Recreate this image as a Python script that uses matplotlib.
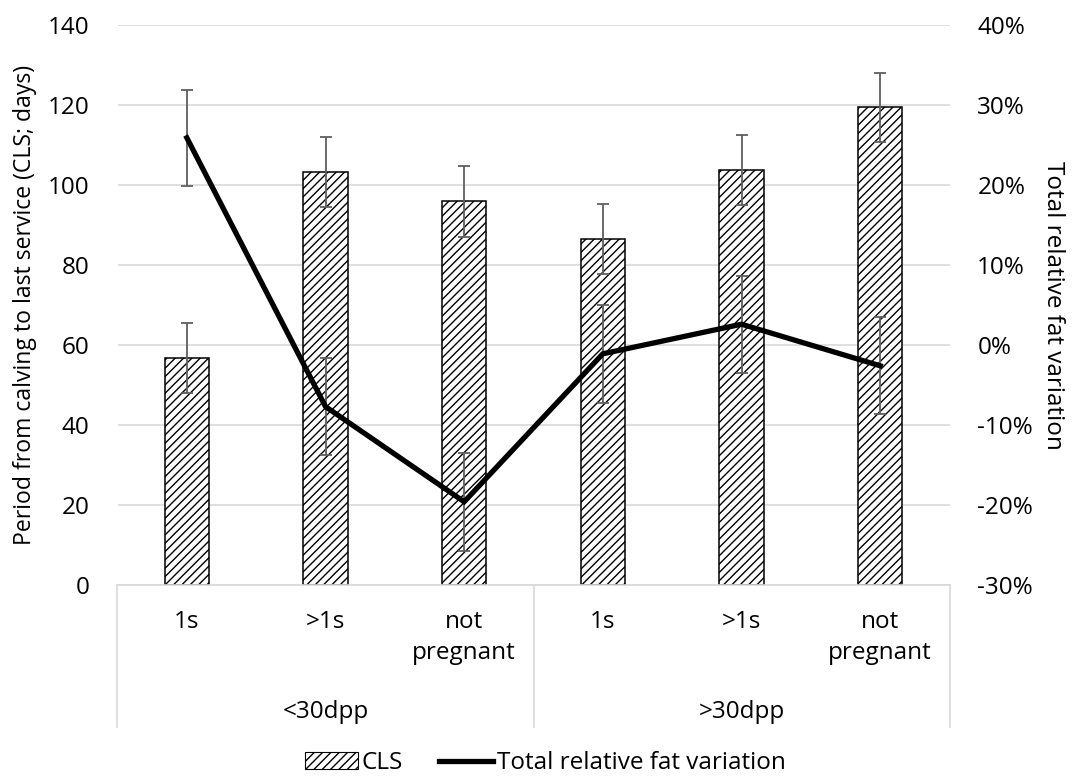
import numpy as np
import matplotlib
matplotlib.use('Agg')
import matplotlib.pyplot as plt
import matplotlib.transforms as mtransforms
from matplotlib.ticker import PercentFormatter
from matplotlib.patches import Patch
from matplotlib.lines import Line2D

plt.rcParams['font.family'] = ['Open Sans', 'DejaVu Sans']
plt.rcParams['font.size'] = 17.5
plt.rcParams['axes.unicode_minus'] = False
plt.rcParams['hatch.linewidth'] = 1.0

groups = ['<30dpp', '>30dpp']
categories = ['1s', '>1s', 'not\npregnant', '1s', '>1s', 'not\npregnant']
cls_days = [56.7, 103.3, 95.9, 86.5, 103.8, 119.4]
cls_err = [8.8, 8.7, 8.8, 8.75, 8.75, 8.6]
fat_var = [25.9, -7.7, -19.6, -1.1, 2.6, -2.6]   # percent
fat_err = [6.0, 6.1, 6.1, 6.1, 6.05, 6.05]

grid_col = '#d9d9d9'
err_col = '#5f5f5f'

x = np.arange(len(categories))

fig = plt.figure(figsize=(10.78, 7.81), dpi=100)
ax = fig.add_axes([117.5 / 1078, 1 - 585 / 781, 832 / 1078, 560 / 781])

ax.bar(x, cls_days, width=0.32, color='white', edgecolor='black', linewidth=1.1,
       hatch='////', zorder=2)
ax.errorbar(x, cls_days, yerr=cls_err, fmt='none', ecolor=err_col, elinewidth=1.3,
            capsize=4.5, capthick=1.3, zorder=3)

ax.set_xlim(-0.5, len(categories) - 0.5)
ax.set_ylim(0, 140)
ax.set_yticks(np.arange(0, 141, 20))
ax.grid(axis='y', color=grid_col, linewidth=1.2, zorder=0)
ax.set_axisbelow(True)
for s in ax.spines.values():
    s.set_visible(False)
ax.tick_params(axis='y', length=0, pad=20)
ax.set_xticks([])
ax.set_ylabel('Period from calving to last service (CLS; days)', va='center', fontsize=16.6)
ax.yaxis.set_label_coords(-0.111, 0.5)

ax2 = ax.twinx()
ax2.errorbar(x, fat_var, yerr=fat_err, fmt='none', ecolor=err_col, elinewidth=1.3,
             capsize=4.5, capthick=1.3, zorder=3)
ax2.plot(x, fat_var, color='black', linewidth=3.8, solid_joinstyle='miter', zorder=4)
ax2.set_ylim(-30, 40)
ax2.set_yticks(np.arange(-30, 41, 10))
ax2.yaxis.set_major_formatter(PercentFormatter(100, decimals=0))
for s in ax2.spines.values():
    s.set_visible(False)
ax2.tick_params(axis='y', length=0, pad=20)
ax2.set_ylabel('Total relative fat variation', rotation=-90, va='center')
ax2.yaxis.set_label_coords(1.1244, 0.5)

# multi-level category axis
trans = mtransforms.blended_transform_factory(ax.transData, ax.transAxes)
ax.plot([-0.5, len(categories) - 0.5], [0, 0], color=grid_col, lw=1.2,
        transform=trans, clip_on=False)
for xv in [-0.5, 2.5, 5.5]:
    ax.plot([xv, xv], [0, -0.254], color=grid_col, lw=1.2, transform=trans, clip_on=False)
for xi, lab in zip(x, categories):
    ax.text(xi, -0.044, lab, ha='center', va='top', transform=trans, linespacing=1.4)
for gi, g in enumerate(groups):
    ax.text(gi * 3 + 1, -0.227, g, ha='center', va='center', transform=trans)

handles = [Patch(facecolor='white', edgecolor='black', hatch='////', linewidth=0.8),
           Line2D([0], [0], color='black', linewidth=3.8)]
fig.legend(handles, ['CLS', 'Total relative fat variation'], loc='center',
           bbox_to_anchor=(545 / 1078, 1 - 763 / 781), ncol=2, frameon=False,
           handlelength=2.2, handleheight=0.65, columnspacing=1.5, handletextpad=0.15)

fig.savefig('out.png', dpi=100)
